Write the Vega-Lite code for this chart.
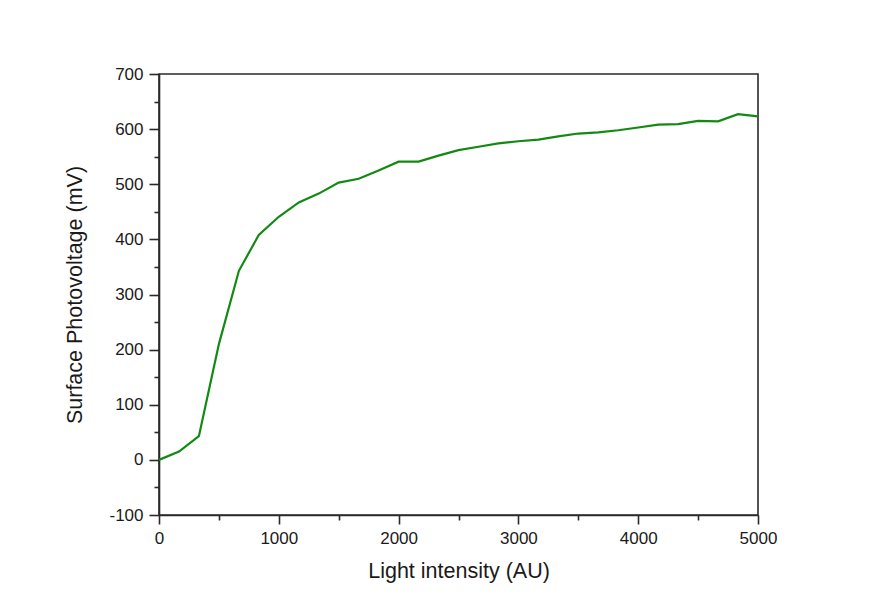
{
  "$schema": "https://vega.github.io/schema/vega-lite/v6.json",
  "width": 599,
  "height": 441,
  "autosize": {"type": "none"},
  "padding": {"left": 159, "top": 74, "right": 114, "bottom": 87},
  "background": "#ffffff",
  "config": {
    "view": {"stroke": "#2a2a2a", "strokeWidth": 1.6},
    "font": "Liberation Sans",
    "axis": {
      "grid": false,
      "domainColor": "#2a2a2a",
      "domainWidth": 1.6,
      "tickColor": "#2a2a2a",
      "tickWidth": 1.6,
      "labelFont": "Liberation Sans",
      "labelFontSize": 17,
      "labelColor": "#1a1a1a",
      "labelFlush": false,
      "labelOverlap": false,
      "titleFont": "Liberation Sans",
      "titleFontSize": 21.5,
      "titleFontWeight": "normal",
      "titleColor": "#1a1a1a"
    }
  },
  "data": {
    "values": [
      {"x": 0, "y": 0},
      {"x": 167, "y": 15},
      {"x": 333, "y": 43},
      {"x": 500, "y": 210},
      {"x": 667, "y": 343},
      {"x": 833, "y": 408},
      {"x": 1000, "y": 441},
      {"x": 1167, "y": 467},
      {"x": 1333, "y": 483},
      {"x": 1500, "y": 503},
      {"x": 1667, "y": 510},
      {"x": 1833, "y": 525},
      {"x": 2000, "y": 541},
      {"x": 2167, "y": 541},
      {"x": 2333, "y": 552},
      {"x": 2500, "y": 562},
      {"x": 2667, "y": 568},
      {"x": 2833, "y": 574},
      {"x": 3000, "y": 578},
      {"x": 3167, "y": 581},
      {"x": 3333, "y": 587},
      {"x": 3500, "y": 592},
      {"x": 3667, "y": 594},
      {"x": 3833, "y": 598},
      {"x": 4000, "y": 603},
      {"x": 4167, "y": 608},
      {"x": 4333, "y": 609},
      {"x": 4500, "y": 615},
      {"x": 4667, "y": 614},
      {"x": 4833, "y": 627},
      {"x": 5000, "y": 623}
    ]
  },
  "layer": [
    {
      "mark": {"type": "line", "strokeOpacity": 0},
      "encoding": {
        "x": {
          "field": "x", "type": "quantitative",
          "scale": {"domain": [0, 5000], "nice": false, "zero": false},
          "axis": {"orient": "bottom", "values": [500, 1500, 2500, 3500, 4500], "labels": false, "domain": false, "tickSize": 5, "title": null}
        },
        "y": {
          "field": "y", "type": "quantitative",
          "scale": {"domain": [-100, 700], "nice": false, "zero": false},
          "axis": {"orient": "left", "values": [-50, 50, 150, 250, 350, 450, 550, 650], "labels": false, "domain": false, "tickSize": 5, "title": null}
        }
      }
    },
    {
      "mark": {"type": "line", "color": "#128a12", "strokeWidth": 2.2},
      "encoding": {
        "x": {
          "field": "x", "type": "quantitative",
          "scale": {"domain": [0, 5000], "nice": false, "zero": false},
          "axis": {"orient": "bottom", "values": [0, 1000, 2000, 3000, 4000, 5000], "labelExpr": "'' + datum.value", "tickSize": 9, "labelPadding": 6, "title": "Light intensity (AU)", "titlePadding": 14}
        },
        "y": {
          "field": "y", "type": "quantitative",
          "scale": {"domain": [-100, 700], "nice": false, "zero": false},
          "axis": {"orient": "left", "values": [-100, 0, 100, 200, 300, 400, 500, 600, 700], "labelExpr": "'' + datum.value", "tickSize": 10, "labelPadding": 6, "title": "Surface Photovoltage (mV)", "titlePadding": 22}
        }
      }
    }
  ],
  "resolve": {"axis": {"x": "independent", "y": "independent"}}
}
